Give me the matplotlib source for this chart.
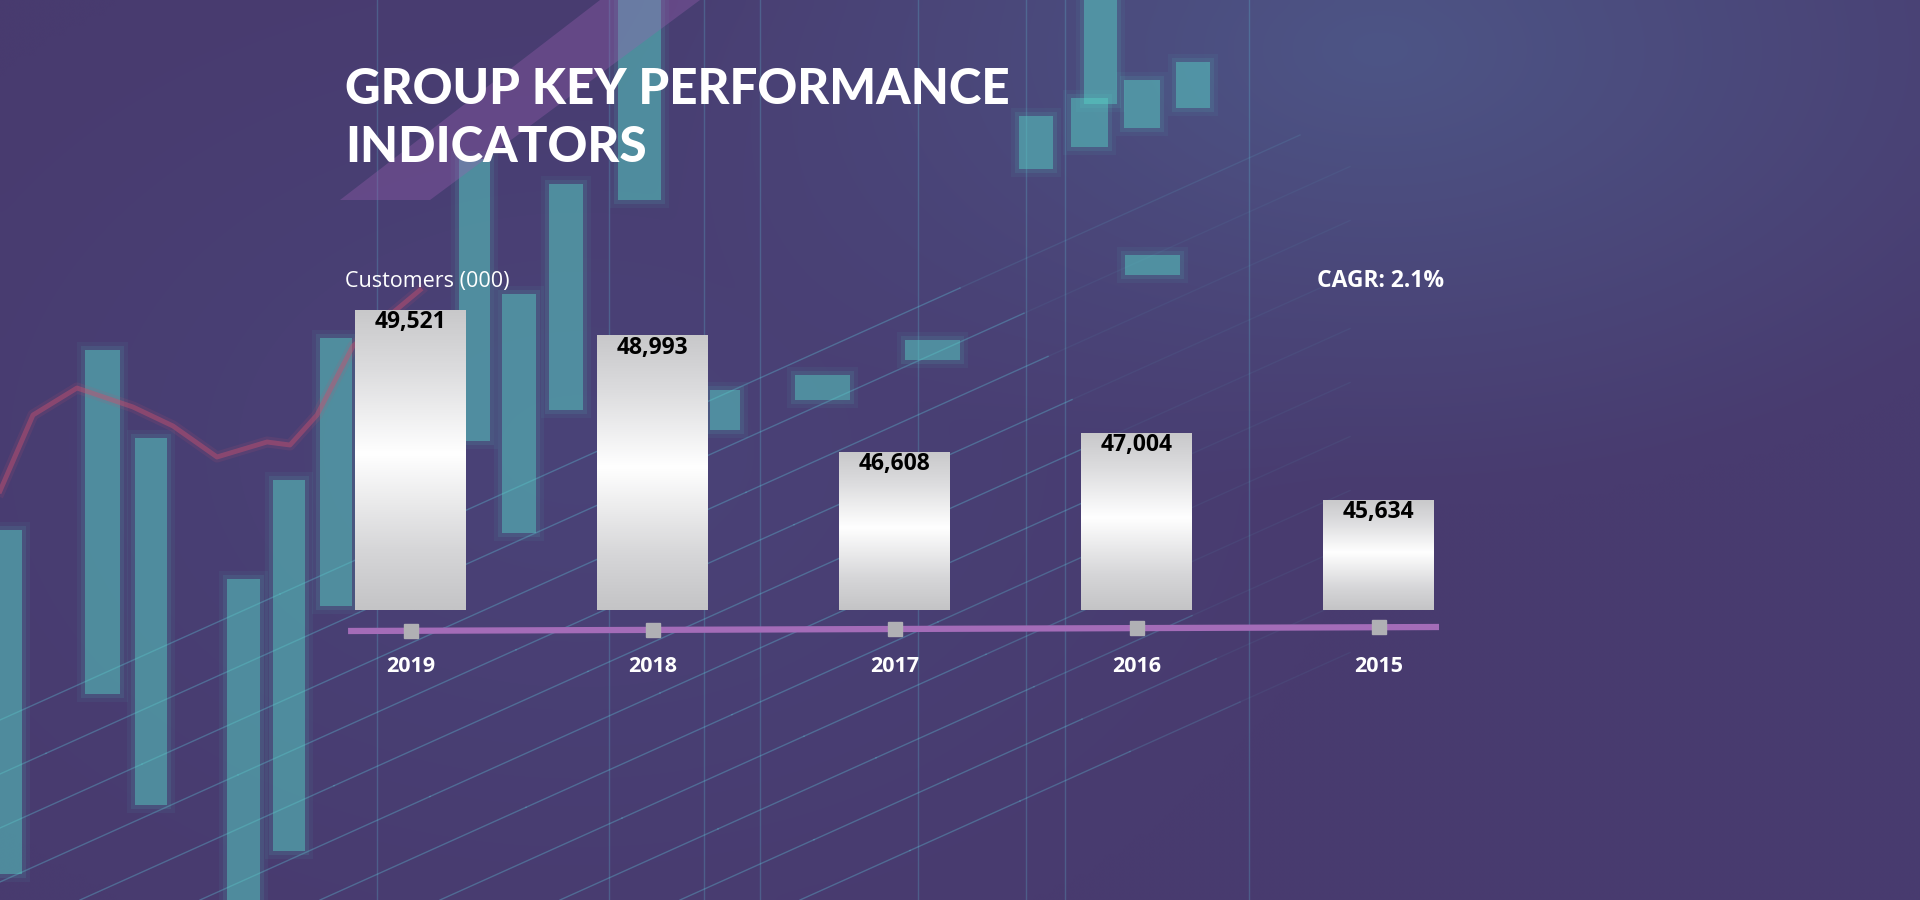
import matplotlib
matplotlib.use("Agg")
import matplotlib.pyplot as plt
import numpy as np
from matplotlib.colors import LinearSegmentedColormap
from matplotlib.patches import Polygon, Rectangle
import matplotlib.transforms as mtrans

# data
years = ['2019', '2018', '2017', '2016', '2015']
customers = [49521, 48993, 46608, 47004, 45634]
title_lines = ['GROUP KEY PERFORMANCE', 'INDICATORS']
unit_label = 'Customers (000)'
cagr_label = 'CAGR: 2.1%'

base_value = 43374

fig = plt.figure(figsize=(19.2, 9), dpi=100)

# ---- background (decoration only) ----
bg = fig.add_axes([0, 0, 1, 1])
bg.set_xlim(0, 1920)
bg.set_ylim(900, 0)
bg.axis('off')

h, w = 90, 192
yy, xx = np.mgrid[0:h, 0:w]
xx = xx / (w - 1)
yy = yy / (h - 1)
c_base = np.array([0x48, 0x3b, 0x6f]) / 255
c_blue = np.array([0x4d, 0x55, 0x86]) / 255
c_left = np.array([0x4b, 0x48, 0x7e]) / 255
wt_blue = np.clip(1 - np.hypot((xx - 0.72) / 0.4, (yy - 0.05) / 0.5), 0, 1)
wt_left = np.clip(1 - np.hypot((xx - 0.3) / 0.4, (yy - 0.5) / 0.6), 0, 1)
img = c_base[None, None, :] * np.ones((h, w, 1))
img = img * (1 - wt_blue[..., None]) + c_blue * wt_blue[..., None]
img = img * (1 - 0.6 * wt_left[..., None]) + c_left * 0.6 * wt_left[..., None]
bg.imshow(img, extent=[0, 1920, 900, 0], aspect='auto', interpolation='bicubic', zorder=0)

# faint grid lines
for i in range(11):
    x0 = -400 + i * 120
    xs = np.linspace(x0, min(x0 + 1700, 1350), 6)
    for a, b in zip(xs[:-1], xs[1:]):
        fade = 0.3 * min(1, (1350 - b) / 300 + 0.2)
        bg.plot([a, b], [900 - 0.45 * (a - x0), 900 - 0.45 * (b - x0)],
                color='#62d8e8', lw=1, alpha=fade, zorder=1)
for vx in [377, 609, 704, 760, 918, 1026, 1065, 1249]:
    bg.plot([vx, vx], [0, 900], color='#62d8e8', lw=1, alpha=0.22, zorder=1)

# blurred teal candles
candles = [(0, 530, 22, 874), (85, 350, 120, 694), (135, 438, 167, 805),
           (227, 579, 260, 900), (273, 480, 305, 851), (320, 338, 352, 606),
           (459, 159, 490, 441), (502, 294, 536, 533), (549, 184, 583, 410),
           (618, 0, 661, 200), (1084, 0, 1117, 104), (1019, 116, 1053, 169),
           (1071, 98, 1108, 147), (1124, 80, 1160, 128), (1176, 62, 1210, 108),
           (710, 390, 740, 430), (795, 375, 850, 400), (905, 340, 960, 360),
           (1125, 255, 1180, 275)]
for x0, y0, x1, y1 in candles:
    for k, a in [(8, 0.06), (4, 0.1), (0, 0.45)]:
        bg.add_patch(Rectangle((x0 - k, y0 - k), x1 - x0 + 2 * k, y1 - y0 + 2 * k,
                               facecolor='#58d2c6', edgecolor='none', alpha=a, zorder=1))

# red trend line
red_x = [0, 33, 77, 133, 173, 217, 267, 290, 317, 353, 420]
red_y = [491, 415, 388, 407, 426, 457, 442, 445, 415, 346, 290]
for lw, a in [(8, 0.12), (3.5, 0.45)]:
    bg.plot(red_x, red_y, color='#c8506e', lw=lw, alpha=a, zorder=1,
            solid_joinstyle='round')

# purple diagonal band behind title
bg.add_patch(Polygon([(340, 200), (430, 200), (700, 0), (600, 0)],
                     facecolor='#9a5fb0', edgecolor='none', alpha=0.35, zorder=1))

# ---- chart ----
px_bottom, px_top = 700, 240
units_per_px = 20.46
ax = fig.add_axes([330 / 1920, (900 - px_bottom) / 900, (1460 - 330) / 1920,
                   (px_bottom - px_top) / 900])
ax.patch.set_alpha(0)
x = np.arange(len(years))
bar_w = 111 / 242
bars = ax.bar(x, [v - base_value for v in customers], bar_w, bottom=base_value,
              color='none', edgecolor='none', zorder=3)

cmap = LinearSegmentedColormap.from_list(
    'silver', [(0, '#c4c4c6'), (0.2, '#d6d6d8'), (0.52, '#ffffff'),
               (0.8, '#dcdcde'), (1, '#c8c8ca')])
grad = np.linspace(0, 1, 256).reshape(-1, 1)
for b, v in zip(bars, customers):
    im = ax.imshow(grad, extent=[b.get_x(), b.get_x() + b.get_width(), base_value, v],
                   cmap=cmap, aspect='auto', origin='lower', zorder=3)
    im.set_clip_path(b)
    ax.annotate(f'{v:,}', (b.get_x() + b.get_width() / 2, v), xytext=(0, -9),
                textcoords='offset points', ha='center', va='center',
                fontsize=16.5, fontweight='bold', family='Open Sans', color='black', zorder=4)

ax.set_xlim(-80.5 / 242, (1460 - 410.5) / 242)
ax.set_ylim(base_value - (px_bottom - 610) * units_per_px,
            base_value + (610 - px_top) * units_per_px)
ax.axis('off')

trans = mtrans.blended_transform_factory(ax.transData, ax.transAxes)
line_y0 = (px_bottom - 631) / (px_bottom - px_top)
line_y1 = (px_bottom - 627) / (px_bottom - px_top)
ax.plot([-0.258, 4.25], [line_y0, line_y1], color='#a46cb8', lw=4.5,
        transform=trans, solid_capstyle='butt', zorder=2)
sq_y = np.interp(x, [-0.258, 4.25], [line_y0, line_y1])
ax.plot(x, sq_y, 's', color='#b0b0b4', markersize=9.5, transform=trans, zorder=3)
for xi, yr in zip(x, years):
    ax.text(xi, (px_bottom - 667) / (px_bottom - px_top), yr, transform=trans,
            ha='center', va='center', fontsize=15.5, fontweight='bold',
            family='Open Sans', color='white')

# ---- texts ----
fig.text(345 / 1920, 1 - 90 / 900, title_lines[0], ha='left', va='center',
         fontsize=35.5, fontweight='black', family='Lato', color='white')
fig.text(345 / 1920, 1 - 148 / 900, title_lines[1], ha='left', va='center',
         fontsize=35.5, fontweight='black', family='Lato', color='white')
fig.text(345 / 1920, 1 - 281 / 900, unit_label, ha='left', va='center',
         fontsize=15.5, family='Open Sans', color='white')
fig.text(1317 / 1920, 1 - 281 / 900, cagr_label, ha='left', va='center',
         fontsize=16.5, fontweight='bold', family='Open Sans', color='white')

fig.savefig('out.png', dpi=100)
